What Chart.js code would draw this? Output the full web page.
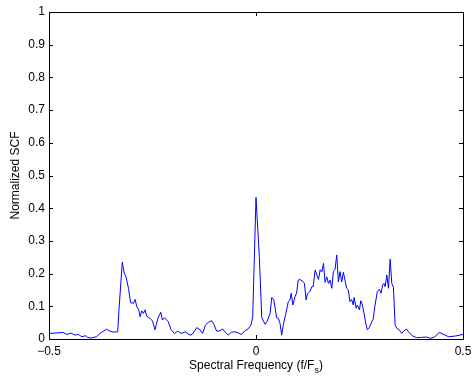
<!DOCTYPE html>
<html>
<head>
<meta charset="utf-8">
<script src="https://cdn.jsdelivr.net/npm/chart.js@4"></script>
<style>
  html, body { margin: 0; padding: 0; background: #fff; }
  canvas { display: block; }
</style>
</head>
<body>
<canvas id="scf" width="474" height="376"></canvas>
<script>
// spectral frequency (f/Fs) and normalized SCF magnitude
const freqs = [
  -0.500, -0.466, -0.457, -0.447, -0.437, -0.429, -0.421, -0.411, -0.407, -0.399,
  -0.385, -0.377, -0.361, -0.353, -0.345, -0.334, -0.331, -0.323, -0.318, -0.314,
  -0.308, -0.303, -0.296, -0.292, -0.288, -0.283, -0.280, -0.276, -0.272, -0.268,
  -0.264, -0.256, -0.250, -0.244, -0.237, -0.230, -0.226, -0.221, -0.212, -0.205,
  -0.197, -0.189, -0.181, -0.171, -0.162, -0.159, -0.154, -0.143, -0.135, -0.129,
  -0.122, -0.115, -0.107, -0.101, -0.095, -0.087, -0.081, -0.075, -0.067, -0.059,
  -0.051, -0.043, -0.035, -0.027, -0.019, -0.012, -0.008, 0.000, 0.008, 0.014,
  0.022, 0.027, 0.034, 0.038, 0.043, 0.050, 0.054, 0.058, 0.062, 0.066,
  0.072, 0.078, 0.082, 0.085, 0.089, 0.094, 0.098, 0.102, 0.106, 0.114,
  0.117, 0.121, 0.124, 0.130, 0.135, 0.138, 0.143, 0.147, 0.151, 0.155,
  0.159, 0.163, 0.167, 0.171, 0.175, 0.179, 0.183, 0.187, 0.191, 0.195,
  0.199, 0.203, 0.207, 0.211, 0.215, 0.219, 0.223, 0.227, 0.231, 0.235,
  0.237, 0.242, 0.245, 0.250, 0.253, 0.257, 0.261, 0.265, 0.269, 0.274,
  0.280, 0.283, 0.287, 0.293, 0.298, 0.302, 0.306, 0.309, 0.312, 0.316,
  0.320, 0.324, 0.328, 0.332, 0.336, 0.340, 0.346, 0.352, 0.357, 0.364,
  0.370, 0.379, 0.388, 0.400, 0.412, 0.422, 0.432, 0.443, 0.452, 0.465,
  0.481, 0.500
];
const scf = [
  0.017, 0.020, 0.014, 0.018, 0.012, 0.014, 0.007, 0.010, 0.005, 0.003,
  0.007, 0.017, 0.030, 0.024, 0.021, 0.022, 0.089, 0.235, 0.200, 0.190,
  0.155, 0.111, 0.109, 0.121, 0.099, 0.089, 0.068, 0.086, 0.078, 0.089,
  0.070, 0.063, 0.055, 0.028, 0.063, 0.082, 0.058, 0.065, 0.053, 0.028,
  0.017, 0.024, 0.017, 0.022, 0.014, 0.012, 0.014, 0.035, 0.028, 0.017,
  0.043, 0.051, 0.056, 0.043, 0.024, 0.025, 0.031, 0.022, 0.012, 0.021,
  0.022, 0.019, 0.014, 0.025, 0.031, 0.043, 0.068, 0.433, 0.252, 0.065,
  0.045, 0.055, 0.078, 0.127, 0.119, 0.065, 0.063, 0.048, 0.012, 0.043,
  0.078, 0.114, 0.119, 0.140, 0.104, 0.129, 0.140, 0.180, 0.182, 0.175,
  0.170, 0.119, 0.138, 0.145, 0.160, 0.160, 0.211, 0.196, 0.182, 0.212,
  0.205, 0.231, 0.173, 0.190, 0.170, 0.180, 0.155, 0.206, 0.213, 0.257,
  0.175, 0.206, 0.175, 0.204, 0.180, 0.155, 0.150, 0.114, 0.121, 0.104,
  0.127, 0.094, 0.104, 0.089, 0.117, 0.104, 0.078, 0.048, 0.028, 0.036,
  0.053, 0.061, 0.099, 0.145, 0.152, 0.140, 0.165, 0.170, 0.160, 0.196,
  0.155, 0.244, 0.170, 0.158, 0.043, 0.033, 0.028, 0.017, 0.025, 0.030,
  0.019, 0.009, 0.004, 0.005, 0.006, 0.002, 0.007, 0.020, 0.015, 0.007,
  0.009, 0.014
];
const xTicks = [-0.5, 0, 0.5];
const yTicks = [0, 0.1, 0.2, 0.3, 0.4, 0.5, 0.6, 0.7, 0.8, 0.9, 1];

const xTitle = "Spectral Frequency (f/F";
const xTitleSub = "s";
const yTitle = "Normalized SCF";

const FONT = "Liberation Sans, Arial, Helvetica, sans-serif";

// box around the axes, inward ticks on all four sides, axis titles
const matlabBox = {
  id: "matlabBox",
  afterDraw(chart) {
    const { ctx, chartArea: a, scales } = chart;
    const x = scales.x, y = scales.y;
    ctx.save();
    ctx.strokeStyle = "#000";
    ctx.lineWidth = 1;
    ctx.strokeRect(a.left + 0.5, a.top + 0.5, a.right - a.left, a.bottom - a.top);

    ctx.beginPath();
    yTicks.forEach((v) => {
      const py = Math.round(y.getPixelForValue(v)) + 0.5;
      ctx.moveTo(a.left, py); ctx.lineTo(a.left + 4, py);
      ctx.moveTo(a.right, py); ctx.lineTo(a.right - 4, py);
    });
    xTicks.forEach((v) => {
      const px = Math.round(x.getPixelForValue(v)) + 0.5;
      ctx.moveTo(px, a.bottom); ctx.lineTo(px, a.bottom - 4);
      ctx.moveTo(px, a.top); ctx.lineTo(px, a.top + 4);
    });
    ctx.stroke();

    ctx.fillStyle = "#000";
    ctx.font = "12px " + FONT;
    ctx.textBaseline = "alphabetic";

    // x title with subscript s
    const mainW = ctx.measureText(xTitle).width;
    ctx.font = "9px " + FONT;
    const subW = ctx.measureText(xTitleSub).width;
    ctx.font = "12px " + FONT;
    const closeW = ctx.measureText(")").width;
    const total = mainW + subW + closeW;
    let tx = (a.left + a.right) / 2 - total / 2;
    const ty = 369;
    ctx.textAlign = "left";
    ctx.fillText(xTitle, tx, ty);
    ctx.font = "9px " + FONT;
    ctx.fillText(xTitleSub, tx + mainW, ty + 4);
    ctx.font = "12px " + FONT;
    ctx.fillText(")", tx + mainW + subW, ty);

    // y title
    ctx.translate(19, (a.top + a.bottom) / 2);
    ctx.rotate(-Math.PI / 2);
    ctx.textAlign = "center";
    ctx.fillText(yTitle, 0, 0);
    ctx.restore();
  }
};

const ctx = document.getElementById("scf").getContext("2d");
const scfChart = new Chart(ctx, {
  type: "line",
  data: {
    datasets: [
      {
        data: freqs.map((f, i) => ({ x: f, y: scf[i] })),
        borderColor: "#0000ff",
        borderWidth: 1,
        pointRadius: 0,
        tension: 0,
        fill: false,
      },
    ],
  },
  options: {
    responsive: false,
    animation: false,
    layout: { padding: { top: 12, right: 11, left: 0, bottom: 0 } },
    plugins: { legend: { display: false }, tooltip: { enabled: false } },
    scales: {
      x: {
        type: "linear",
        min: -0.5,
        max: 0.5,
        grid: { display: false, drawTicks: false },
        border: { display: false },
        afterBuildTicks: (scale) => {
          scale.ticks = xTicks.map((v) => ({ value: v }));
        },
        afterFit: (scale) => {
          scale.height = 37;
          scale.paddingLeft = 0;
          scale.paddingRight = 0;
        },
        ticks: {
          color: "#000",
          font: { family: FONT, size: 12 },
          padding: 5,
          maxRotation: 0,
          callback: (v) => (v < 0 ? "\u2212" + Math.abs(v) : String(v)),
        },
      },
      y: {
        min: 0,
        max: 1,
        grid: { display: false, drawTicks: false },
        border: { display: false },
        afterBuildTicks: (scale) => {
          scale.ticks = yTicks.map((v) => ({ value: v }));
        },
        afterFit: (scale) => {
          scale.width = 49;
          scale.paddingTop = 0;
          scale.paddingBottom = 0;
        },
        ticks: {
          color: "#000",
          font: { family: FONT, size: 12 },
          padding: 4,
          callback: (v) => String(v),
        },
      },
    },
  },
  plugins: [matlabBox],
});
</script>
</body>
</html>
